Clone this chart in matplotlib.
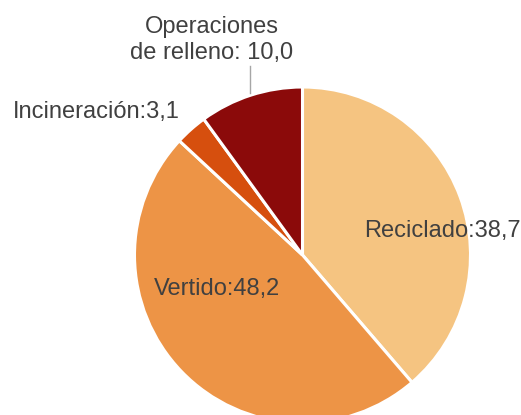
import matplotlib
matplotlib.use("Agg")
import matplotlib.pyplot as plt

categories = ["Reciclado", "Vertido", "Incineración", "Operaciones de relleno"]
values = [38.7, 48.2, 3.1, 10.0]
labels = ["Reciclado:38,7", "Vertido:48,2", "Incineración:3,1", "Operaciones\nde relleno: 10,0"]
colors = ["#F5C481", "#ED9446", "#D64F0E", "#8B0A0A"]

W, H = 521, 415
fig = plt.figure(figsize=(W / 100, H / 100), dpi=100)
ax = fig.add_axes([0, 0, 1, 1])
ax.pie(values, colors=colors, startangle=90, counterclock=False,
       center=(302.5, H - 255), radius=168, frame=True,
       wedgeprops=dict(edgecolor="white", linewidth=2.2))
ax.set_xlim(0, W)
ax.set_ylim(0, H)
ax.set_aspect("auto")
ax.axis("off")

txt = dict(color="#404040", fontsize=17, family="Liberation Sans")
ax.text(442, H - 231, labels[0], ha="center", va="center", **txt)
ax.text(217, H - 289, labels[1], ha="center", va="center", **txt)
ax.text(96, H - 112, labels[2], ha="center", va="center", **txt)
ax.text(212, H - 40, labels[3], ha="center", va="center", linespacing=1.2, **txt)
ax.plot([250, 250], [H - 66, H - 93], color="#A6A6A6", linewidth=1)

fig.savefig("out.png", dpi=100)
